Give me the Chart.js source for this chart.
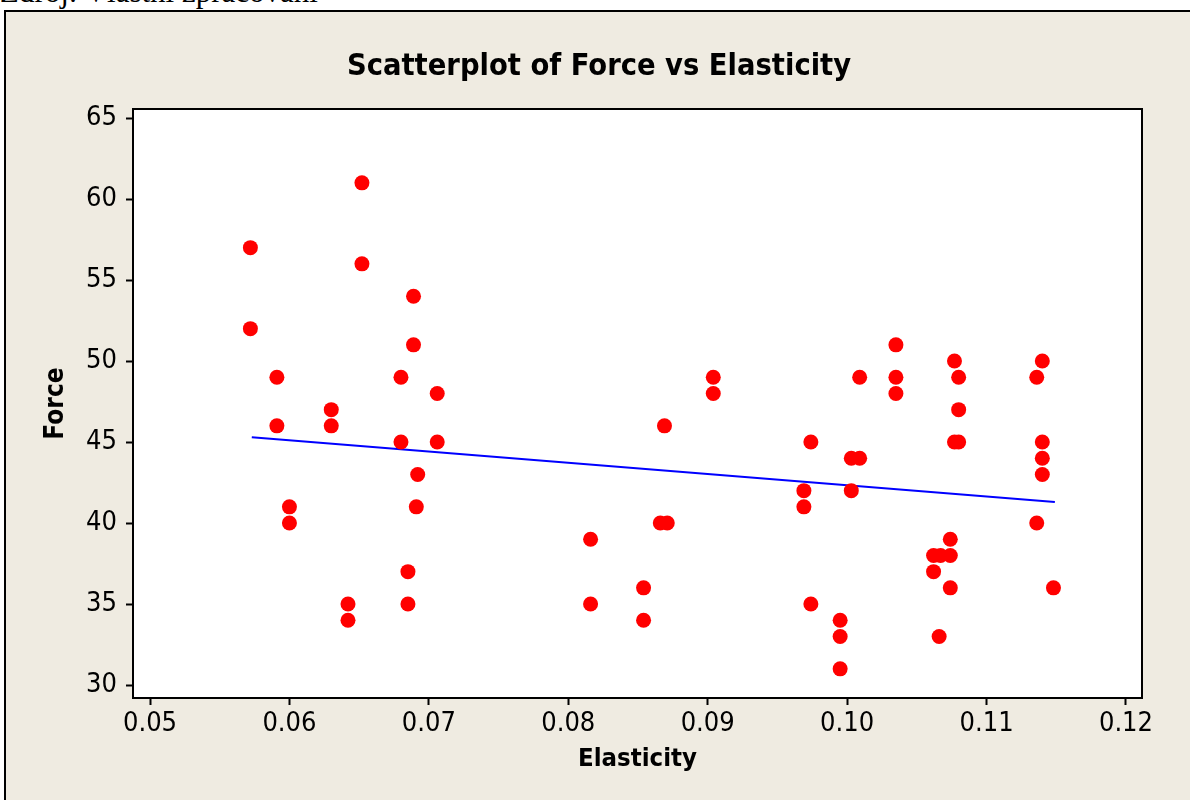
<!DOCTYPE html>
<html>
<head>
<meta charset="utf-8">
<script src="https://cdn.jsdelivr.net/npm/chart.js@4"></script>
<style>
	html, body { margin: 0; padding: 0; background: #fff; overflow: hidden; }
	.src { position: absolute; left: 0; top: -24px; font: 31px/31px "Liberation Serif", serif; color: #000; white-space: nowrap; }
	.frame { position: absolute; left: 4px; top: 10px; width: 1300px; height: 900px; background: #efebe1; border-left: 2px solid #000; border-top: 2px solid #000; }
	#MyChart1 { position: absolute; left: 0; top: 0; }
</style>
</head>
<body>
<div class="src">Zdroj: Vlastní zpracování</div>
<div class="frame"></div>
<canvas id="MyChart1" width="1190" height="800"></canvas>
<script>
var elasticity = [0.0572, 0.0572, 0.0591, 0.0591, 0.0600, 0.0600, 0.0630, 0.0630, 0.0642, 0.0642,
	0.0652, 0.0652, 0.0680, 0.0680, 0.0685, 0.0685, 0.0689, 0.0689, 0.0692, 0.0691,
	0.0706, 0.0706, 0.0816, 0.0816, 0.0854, 0.0854, 0.0869, 0.0866, 0.0871, 0.0904,
	0.0904, 0.0969, 0.0969, 0.0974, 0.0974, 0.0995, 0.0995, 0.0995, 0.1003, 0.1003,
	0.1009, 0.1009, 0.1035, 0.1035, 0.1035, 0.1062, 0.1062, 0.1067, 0.1066, 0.1074,
	0.1074, 0.1074, 0.1077, 0.1077, 0.1080, 0.1080, 0.1080, 0.1136, 0.1136, 0.1140,
	0.1140, 0.1140, 0.1140, 0.1148];
var force = [57, 52, 49, 46, 41, 40, 47, 46, 35, 34,
	61, 56, 49, 45, 37, 35, 54, 51, 43, 41,
	48, 45, 39, 35, 36, 34, 46, 40, 40, 49,
	48, 42, 41, 45, 35, 34, 33, 31, 44, 42,
	44, 49, 51, 49, 48, 38, 37, 38, 33, 39,
	38, 36, 50, 45, 49, 47, 45, 49, 40, 50,
	45, 44, 43, 36];
var fitX = [0.0573, 0.1149];
var fitY = [45.3, 41.3];
var xTicks = [0.05, 0.06, 0.07, 0.08, 0.09, 0.10, 0.11, 0.12];
var yTicks = [30, 35, 40, 45, 50, 55, 60, 65];

var FONT = '"DejaVu Sans Condensed", "DejaVu Sans", sans-serif';

var plotBox = {
	id : 'plotBox',
	beforeDatasetsDraw : function(chart) {
		var a = chart.chartArea, c = chart.ctx;
		c.save();
		c.fillStyle = '#fff';
		c.fillRect(a.left, a.top, a.right - a.left, a.bottom - a.top);
		c.restore();
	},
	afterDraw : function(chart) {
		var a = chart.chartArea, c = chart.ctx;
		c.save();
		c.strokeStyle = '#000';
		c.lineWidth = 2;
		c.strokeRect(a.left, a.top, a.right - a.left, a.bottom - a.top);
		c.restore();
	}
};

var ctx = document.getElementById('MyChart1').getContext('2d');
var chart = new Chart(ctx, {
	type : 'scatter',
	data : {
		datasets : [ {
			label : 'Force',
			data : elasticity.map(function(x, i) { return { x : x, y : force[i] }; }),
			backgroundColor : '#ff0000',
			borderWidth : 0,
			pointRadius : 7.5,
			pointHoverRadius : 7.5
		}, {
			label : 'Fit',
			type : 'line',
			data : fitX.map(function(x, i) { return { x : x, y : fitY[i] }; }),
			borderColor : '#0000ff',
			borderWidth : 2,
			pointRadius : 0,
			fill : false
		} ]
	},
	options : {
		responsive : false,
		animation : false,
		layout : { padding : { left : 8, right : 0, top : 0, bottom : 0 } },
		plugins : {
			legend : { display : false },
			tooltip : { enabled : false },
			title : {
				display : true,
				text : 'Scatterplot of Force vs Elasticity',
				color : '#000',
				font : { family : FONT, size : 30.5, weight : 'bold', lineHeight : 1.2 },
				padding : { top : 49, bottom : 23.4 }
			}
		},
		scales : {
			x : {
				type : 'linear',
				min : 0.04878,
				max : 0.12115,
				afterBuildTicks : function(s) { s.ticks = xTicks.map(function(v) { return { value : v }; }); },
				afterFit : function(s) { s.height = 102; },
				border : { display : false },
				grid : { drawOnChartArea : false, drawTicks : true, tickLength : 7, tickColor : '#000', tickWidth : 2 },
				ticks : {
					color : '#000',
					padding : 3,
					maxRotation : 0,
					font : { family : FONT, size : 27 },
					callback : function(v) { return v.toFixed(2); }
				},
				title : {
					display : true,
					text : 'Elasticity',
					color : '#000',
					font : { family : FONT, size : 25.5, weight : 'bold', lineHeight : 1.2 },
					padding : { top : 0, bottom : 25 }
				}
			},
			y : {
				type : 'linear',
				min : 29.2,
				max : 65.56,
				afterBuildTicks : function(s) { s.ticks = yTicks.map(function(v) { return { value : v }; }); },
				afterFit : function(s) { s.width = 125; },
				border : { display : false },
				grid : { drawOnChartArea : false, drawTicks : true, tickLength : 7, tickColor : '#000', tickWidth : 2 },
				ticks : {
					color : '#000',
					padding : 9,
					font : { family : FONT, size : 27 }
				},
				title : {
					display : true,
					text : 'Force',
					color : '#000',
					font : { family : FONT, size : 26, weight : 'bold', lineHeight : 1.2 },
					padding : { top : 33, bottom : 0 }
				}
			},
			y2 : {
				type : 'linear',
				position : 'right',
				display : true,
				afterFit : function(s) { s.width = 48; },
				border : { display : false },
				grid : { display : false },
				ticks : { display : false }
			}
		}
	},
	plugins : [ plotBox ]
});
</script>
</body>
</html>
